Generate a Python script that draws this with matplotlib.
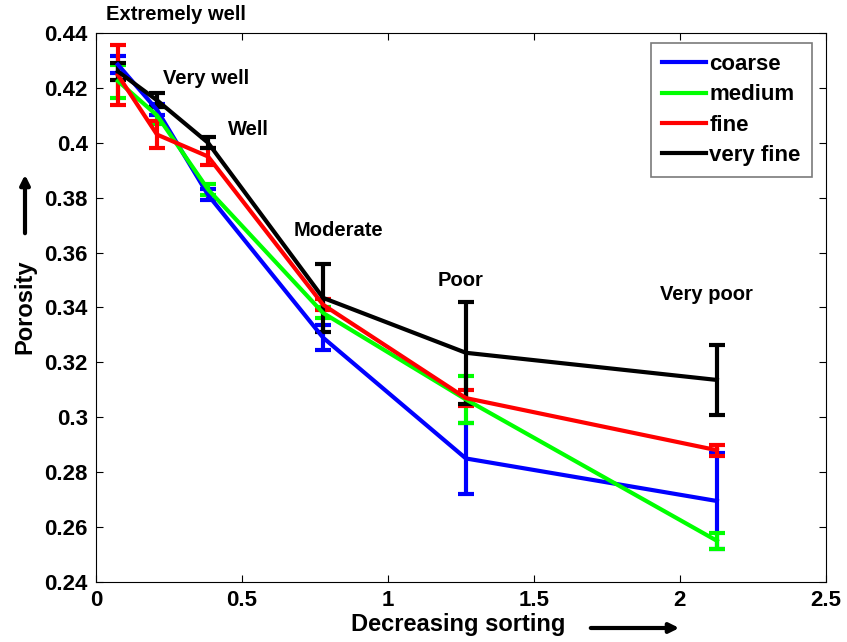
import numpy as np
import matplotlib.pyplot as plt
from matplotlib.lines import Line2D
from matplotlib.patches import FancyArrowPatch

plt.rc('font', family='Liberation Sans', weight='bold', size=15)

# sorting measure (x) for each class
sorting = [0.075, 0.209, 0.384, 0.778, 1.267, 2.127]
sort_labels = ["Extremely well", "Very well", "Well", "Moderate", "Poor", "Very poor"]

coarse = [0.4285, 0.412, 0.381, 0.329, 0.285, 0.2695]
coarse_err = [0.003, 0.002, 0.002, 0.0045, 0.013, 0.0175]
medium = [0.4225, 0.410, 0.383, 0.338, 0.3065, 0.255]
medium_err = [0.006, 0.003, 0.002, 0.002, 0.0085, 0.003]
fine = [0.4247, 0.403, 0.395, 0.341, 0.307, 0.288]
fine_err = [0.011, 0.005, 0.003, 0.002, 0.003, 0.002]
very_fine = [0.426, 0.4155, 0.400, 0.3435, 0.3235, 0.3136]
very_fine_err = [0.003, 0.0025, 0.002, 0.0125, 0.0185, 0.0127]

series = [("coarse", coarse, coarse_err, "#0000ff"),
          ("medium", medium, medium_err, "#00ff00"),
          ("fine", fine, fine_err, "#ff0000"),
          ("very fine", very_fine, very_fine_err, "#000000")]

fig = plt.figure(figsize=(8.47, 6.42), dpi=100)
ax = fig.add_axes([0.1133, 0.0935, 0.8617, 0.8551])

for name, vals, err, col in series:
    ax.errorbar(sorting, vals, yerr=err, color=col, lw=3, elinewidth=3,
                capsize=6, capthick=3)

# sorting class labels
label_pos = [(0.035, 0.4466), (0.23, 0.4236), (0.452, 0.4047),
             (0.678, 0.3679), (1.171, 0.3497), (1.932, 0.3446)]
for txt, (lx, ly) in zip(sort_labels, label_pos):
    ax.text(lx, ly, txt, fontsize=14.5, fontweight='bold', va='center', ha='left',
            clip_on=False)

ax.set_xlim(0, 2.5)
ax.set_ylim(0.24, 0.44)
ax.set_xticks([0, 0.5, 1, 1.5, 2, 2.5])
ax.set_xticklabels(["0", "0.5", "1", "1.5", "2", "2.5"])
ax.set_yticks(np.arange(0.24, 0.4401, 0.02))
ax.set_yticklabels(["0.24", "0.26", "0.28", "0.3", "0.32", "0.34", "0.36",
                    "0.38", "0.4", "0.42", "0.44"])
ax.tick_params(direction='in', top=True, right=True, length=5, labelsize=16)
ax.tick_params(axis='x', pad=6)
ax.tick_params(axis='y', pad=6)

ax.set_xlabel("Decreasing sorting", fontsize=17, fontweight='bold', va='center')
ax.xaxis.set_label_coords(0.496, -0.078)
ax.set_ylabel("Porosity", fontsize=17, fontweight='bold', va='center')
ax.yaxis.set_label_coords(-0.097, 0.501)

# arrows next to the axis labels
fig.patches.append(FancyArrowPatch(
    (588 / 847, 1 - 628 / 642), (682 / 847, 1 - 628 / 642),
    transform=fig.transFigure, arrowstyle='-|>', mutation_scale=14, lw=3, color='k'))
fig.patches.append(FancyArrowPatch(
    (25 / 847, 1 - 236 / 642), (25 / 847, 1 - 172 / 642),
    transform=fig.transFigure, arrowstyle='-|>', mutation_scale=14, lw=3, color='k'))

handles = [Line2D([], [], color=col, lw=3) for _, _, _, col in series]
labels = [name for name, _, _, _ in series]
leg = ax.legend(handles, labels, loc='upper right', bbox_to_anchor=(0.981, 0.982),
                borderaxespad=0, fontsize=16, handlelength=2.0, handletextpad=0.15,
                borderpad=0.5, labelspacing=0.42, fancybox=False, edgecolor='0.35')
leg.get_frame().set_linewidth(1.2)

fig.savefig("out.png", dpi=100)
